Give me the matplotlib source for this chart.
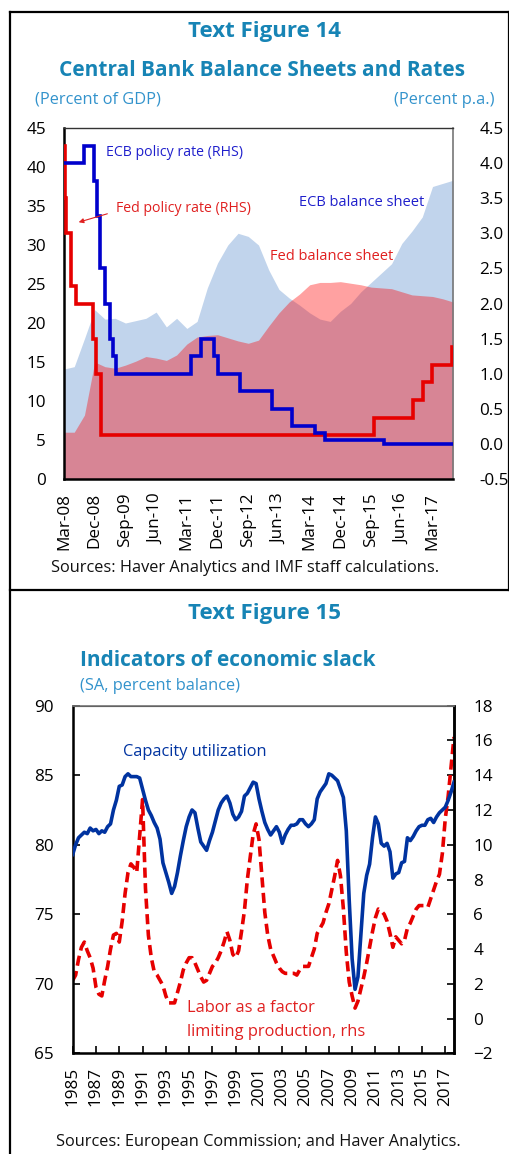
"""Two IMF text figures: central bank balance sheets/rates and economic slack."""
import matplotlib
matplotlib.use("Agg")
import matplotlib.pyplot as plt
from matplotlib.lines import Line2D
import numpy as np
import pandas as pd

plt.rcParams["font.family"] = ["Open Sans", "DejaVu Sans"]

TITLE_C = "#1784b5"
UNIT_C = "#3393cc"
ECB_FILL = "#c1d4ec"
FED_FILL = "#ff0000"
ECB_LINE = "#0000cc"
FED_LINE = "#e60000"
CU_LINE = "#0033a0"

# ---------------- Text Figure 14 ----------------
bs_start = "2008-03-01"
# percent of GDP, quarterly Mar-08 .. Sep-17
ecb_bs = [14.1, 14.4, 18.0, 21.7, 20.5, 20.6, 20.0, 20.3, 20.6, 21.4,
          19.5, 20.6, 19.3, 20.2, 24.5, 27.7, 30.0, 31.5, 31.1, 30.0,
          26.8, 24.3, 23.2, 22.3, 21.3, 20.5, 20.2, 21.5, 22.5, 24.0,
          25.2, 26.4, 27.6, 30.2, 31.8, 33.6, 37.5, 37.9, 38.3]
fed_bs = [6.0, 6.0, 8.2, 15.0, 14.4, 14.2, 14.6, 15.1, 15.7, 15.5,
          15.2, 15.9, 17.3, 18.2, 18.4, 18.5, 18.1, 17.7, 17.4, 17.8,
          19.6, 21.3, 22.7, 23.7, 24.9, 25.2, 25.2, 25.3, 25.1, 24.9,
          24.6, 24.5, 24.4, 24.0, 23.6, 23.5, 23.4, 23.1, 22.7]
bs_tick_every = 3

# policy rates, percent p.a. (change dates, last entry = end of chart)
ecb_rate_dates = ["2008-01-08", "2008-07-09", "2008-10-15", "2008-11-12",
                  "2008-12-10", "2009-01-21", "2009-03-11", "2009-04-08",
                  "2009-05-13", "2011-04-13", "2011-07-13", "2011-11-09",
                  "2011-12-14", "2012-07-11", "2013-05-08", "2013-11-13",
                  "2014-06-11", "2014-09-10", "2016-03-16", "2017-12-25"]
ecb_rate = [4.0, 4.25, 3.75, 3.25, 2.5, 2.0, 1.5, 1.25, 1.0, 1.25, 1.5,
            1.25, 1.0, 0.75, 0.5, 0.25, 0.15, 0.05, 0.0, 0.0]
fed_rate_dates = ["2008-01-08", "2008-01-22", "2008-01-30", "2008-03-18",
                  "2008-04-30", "2008-10-08", "2008-10-29", "2008-12-16",
                  "2015-12-16", "2016-12-14", "2017-03-15", "2017-06-14",
                  "2017-12-13", "2017-12-25"]
fed_rate = [4.25, 3.5, 3.0, 2.25, 2.0, 1.5, 1.0, 0.125, 0.375, 0.625,
            0.875, 1.125, 1.375, 1.375]

# ---------------- Text Figure 15 ----------------
slack_start = "1985-01-01"
# capacity utilization, percent (lhs), quarterly 1985Q1 .. 2017Q4
capacity = [79.3, 80.0, 80.5, 80.7, 80.9, 80.8, 81.2, 81.0, 81.1, 80.8,
            81.0, 80.9, 81.3, 81.5, 82.5, 83.2, 84.2, 84.3, 84.9, 85.1,
            84.9, 84.9, 84.9, 84.8, 84.0, 83.2, 82.5, 82.1, 81.6, 81.2,
            80.4, 78.7, 78.0, 77.3, 76.5, 77.0, 78.0, 79.2, 80.3, 81.3,
            82.0, 82.5, 82.3, 81.2, 80.2, 79.9, 79.6, 80.3, 80.9, 81.7,
            82.5, 83.0, 83.3, 83.5, 83.0, 82.2, 81.8, 82.0, 82.4, 83.5,
            83.7, 84.1, 84.5, 84.4, 83.3, 82.4, 81.6, 81.1, 80.7, 81.0,
            81.3, 80.9, 80.1, 80.7, 81.1, 81.4, 81.4, 81.5, 81.8, 81.8,
            81.5, 81.3, 81.5, 81.8, 83.3, 83.8, 84.1, 84.4, 85.1, 85.0,
            84.8, 84.6, 84.0, 83.4, 81.0, 76.0, 71.8, 69.6, 70.5, 73.5,
            76.5, 77.8, 78.6, 80.5, 82.0, 81.5, 80.1, 79.9, 80.1, 79.5,
            77.6, 77.9, 78.0, 78.7, 78.8, 80.5, 80.3, 80.6, 81.0, 81.3,
            81.4, 81.4, 81.8, 81.9, 81.6, 82.0, 82.3, 82.5, 82.7, 83.2,
            83.8, 84.5]
# labor as a factor limiting production, percent balance (rhs)
labor = [2.2, 2.5, 3.4, 4.1, 4.4, 3.9, 3.5, 2.9, 1.8, 1.4,
         1.3, 2.2, 3.0, 4.0, 4.8, 4.9, 4.4, 5.6, 7.2, 8.4,
         8.9, 8.7, 8.4, 10.5, 12.6, 7.5, 4.8, 3.5, 2.7, 2.5,
         2.2, 1.9, 1.3, 0.9, 0.9, 0.9, 1.5, 2.1, 2.8, 3.2,
         3.5, 3.5, 3.2, 2.8, 2.4, 2.1, 2.2, 2.6, 3.0, 3.2,
         3.5, 3.9, 4.4, 5.0, 4.5, 3.7, 3.5, 3.9, 5.0, 6.2,
         8.0, 9.3, 10.6, 11.2, 10.3, 8.2, 6.1, 4.8, 4.0, 3.6,
         3.2, 2.9, 2.7, 2.6, 2.6, 2.6, 2.6, 2.5, 2.8, 3.0,
         3.0, 3.0, 3.5, 4.0, 4.9, 5.2, 5.5, 6.1, 6.6, 7.4,
         8.2, 9.1, 8.2, 6.3, 3.8, 2.1, 1.3, 0.6, 1.0, 1.7,
         2.4, 3.2, 4.1, 5.0, 5.8, 6.3, 6.2, 6.0, 5.6, 4.9,
         4.1, 4.7, 4.5, 4.3, 4.5, 5.2, 5.5, 5.9, 6.3, 6.5,
         6.5, 6.5, 6.4, 6.9, 7.4, 7.9, 8.3, 9.5, 11.5, 12.8,
         14.5, 16.2]
slack_tick_every = 8

W, H = 510, 1154
TICK_FS = 12.3
NOTE_FS = 11.8
TITLE_FS = 15

fig = plt.figure(figsize=(W / 100, H / 100), dpi=100)


def rect(x0, y0, x1, y1):
    """pixel box (top-left origin) -> figure fraction rect"""
    return [x0 / W, 1 - y1 / H, (x1 - x0) / W, (y1 - y0) / H]


def ftext(x, y, s, **kw):
    fig.text(x / W, 1 - y / H, s, **kw)


# panel borders
for xs, ys in [([10, 10], [12, H]), ([10, W], [12, 12]), ([10, W], [590, 590]),
               ([509, 509], [12, 590])]:
    fig.add_artist(Line2D([x / W for x in xs], [1 - y / H for y in ys],
                          color="black", lw=1.6))

# ---- top chart ----
ftext(264, 32, "Text Figure 14", ha="center", va="center", fontsize=16,
      fontweight="bold", color=TITLE_C)
ftext(262, 71, "Central Bank Balance Sheets and Rates", ha="center",
      va="center", fontsize=TITLE_FS, fontweight="bold", color=TITLE_C)
ftext(35, 100, "(Percent of GDP)", ha="left", va="center", fontsize=NOTE_FS,
      color=UNIT_C)
ftext(495, 100, "(Percent p.a.)", ha="right", va="center", fontsize=NOTE_FS,
      color=UNIT_C)

ax = fig.add_axes(rect(64, 128, 453, 479))
qx = np.arange(len(ecb_bs))
ax.fill_between(qx, 0, ecb_bs, color=ECB_FILL, lw=0, zorder=1)
ax.fill_between(qx, 0, fed_bs, color=FED_FILL, alpha=0.37, lw=0, zorder=2)
ax.set_xlim(0, len(ecb_bs) - 1)
ax.set_ylim(0, 45)
ax.set_yticks(np.arange(0, 46, 5))
q_dates = pd.date_range(bs_start, periods=len(ecb_bs), freq="3MS")
ticks = qx[::bs_tick_every]
ax.set_xticks(ticks)
ax.set_xticklabels([q_dates[i].strftime("%b-%y") for i in ticks], rotation=90)
ax.tick_params(axis="both", length=0, labelsize=TICK_FS)
ax.tick_params(axis="y", pad=13)
ax.tick_params(axis="x", pad=10)
for side in ["left", "bottom"]:
    ax.spines[side].set_linewidth(1.8)
ax.spines["top"].set_linewidth(1.0)
ax.spines["top"].set_color("#333333")
ax.spines["right"].set_linewidth(1.2)
ax.spines["right"].set_color("#777777")

axr = fig.add_axes(ax.get_position(), frameon=False)
axr.patch.set_visible(False)
ed = pd.to_datetime(ecb_rate_dates)
fd = pd.to_datetime(fed_rate_dates)
axr.step(fd, fed_rate, where="post", color=FED_LINE, lw=2.6,
         solid_joinstyle="miter")
axr.step(ed, ecb_rate, where="post", color=ECB_LINE, lw=2.6,
         solid_joinstyle="miter")
axr.set_xlim(ed[0], ed[-1])
axr.set_ylim(-0.5, 4.5)
axr.set_yticks(np.arange(-0.5, 4.51, 0.5))
axr.set_yticklabels([f"{v:.1f}" for v in np.arange(-0.5, 4.51, 0.5)])
axr.yaxis.tick_right()
axr.xaxis.set_visible(False)
axr.tick_params(axis="y", length=0, labelsize=TICK_FS, pad=19)
for lbl in axr.get_yticklabels():
    lbl.set_horizontalalignment("left")

ftext(106, 153, "ECB policy rate (RHS)", ha="left", va="center",
      fontsize=10.2, color="#2020cc")
ftext(116, 209, "Fed policy rate (RHS)", ha="left", va="center",
      fontsize=10.2, color="#e02020")
fig.add_artist(matplotlib.patches.FancyArrowPatch(
    (110 / W, 1 - 213 / H), (76 / W, 1 - 223 / H), transform=fig.transFigure,
    arrowstyle="-|>", mutation_scale=7, color="#e02020", lw=0.8))
ftext(299, 202, "ECB balance sheet", ha="left", va="center", fontsize=10.5,
      color="#2020cc")
ftext(270, 257, "Fed balance sheet", ha="left", va="center", fontsize=10.5,
      color="#e02020")
ftext(245, 568, "Sources: Haver Analytics and IMF staff calculations.",
      ha="center", va="center", fontsize=NOTE_FS, color="#111111")

# ---- bottom chart ----
ftext(264, 614, "Text Figure 15", ha="center", va="center", fontsize=16,
      fontweight="bold", color=TITLE_C)
ftext(80, 661, "Indicators of economic slack", ha="left", va="center",
      fontsize=TITLE_FS, fontweight="bold", color=TITLE_C)
ftext(80, 686, "(SA, percent balance)", ha="left", va="center",
      fontsize=NOTE_FS, color=UNIT_C)

bx = fig.add_axes(rect(72.7, 705.7, 454, 1053.3))
ix = np.arange(len(capacity))
bx.plot(ix, capacity, color=CU_LINE, lw=2.6, zorder=3)
bx.set_xlim(0, len(capacity) - 1)
bx.set_ylim(65, 90)
bx.set_yticks(np.arange(65, 91, 5))
s_dates = pd.date_range(slack_start, periods=len(capacity), freq="QS")
sticks = ix[::slack_tick_every]
bx.set_xticks(sticks)
bx.set_xticklabels([str(s_dates[i].year) for i in sticks], rotation=90)
bx.tick_params(axis="both", direction="in", length=5, width=1.2,
               labelsize=TICK_FS)
bx.tick_params(axis="y", pad=14)
bx.tick_params(axis="x", pad=10)
for side in ["left", "bottom", "right"]:
    bx.spines[side].set_linewidth(1.8)
bx.spines["top"].set_linewidth(1.2)
bx.spines["top"].set_color("#777777")

bxr = bx.twinx()
bxr.plot(ix, labor, color=FED_LINE, lw=2.6, dashes=(2.8, 1.5), zorder=2)
bxr.set_ylim(-2, 18)
bxr.set_yticks(np.arange(-2, 19, 2))
bxr.tick_params(axis="y", direction="in", length=5, width=1.2,
                labelsize=TICK_FS, pad=14)
bxr.spines["right"].set_linewidth(1.8)
bx.set_zorder(bxr.get_zorder() + 1)
bx.patch.set_visible(False)

ftext(123, 752, "Capacity utilization", ha="left", va="center",
      fontsize=NOTE_FS, color=CU_LINE)
ftext(187, 1008, "Labor as a factor", ha="left", va="center",
      fontsize=NOTE_FS, color="#e02020")
ftext(187, 1032, "limiting production, rhs", ha="left", va="center",
      fontsize=NOTE_FS, color="#e02020")
ftext(56, 1142, "Sources: European Commission; and Haver Analytics.",
      ha="left", va="center", fontsize=NOTE_FS, color="#111111")

fig.savefig("out.png", dpi=100)
